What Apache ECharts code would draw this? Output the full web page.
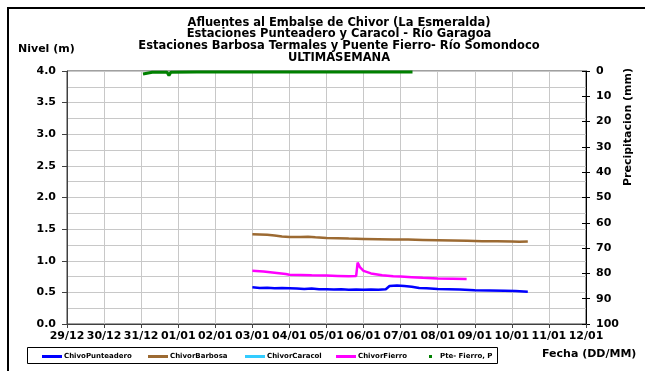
<!DOCTYPE html>
<html><head><meta charset="utf-8">
<script src="https://cdn.jsdelivr.net/npm/echarts@6/dist/echarts.min.js"></script>
<style>html,body{margin:0;padding:0;background:#fff}#c{width:645px;height:371px}</style>
</head><body><div id="c"></div>
<script>
var tickLabels = ['29/12','30/12','31/12','01/01','02/01','03/01','04/01','05/01','06/01','07/01','08/01','09/01','10/01','11/01','12/01'];
var leftTicks = [0,0.5,1,1.5,2,2.5,3,3.5,4];
var rightTicks = [0,10,20,30,40,50,60,70,80,90,100];
var seriesNames = ['ChivoPunteadero','ChivorBarbosa','ChivorCaracol','ChivorFierro','Pte- Fierro, P'];
// x = days since 29/12
var punteadero = [[5.0,0.58],[5.2,0.57],[5.4,0.575],[5.6,0.565],[5.8,0.57],[6.0,0.565],[6.2,0.56],[6.4,0.555],[6.6,0.56],[6.8,0.55],[7.0,0.55],[7.2,0.545],[7.4,0.55],[7.6,0.54],[7.8,0.545],[8.0,0.54],[8.2,0.545],[8.4,0.54],[8.6,0.55],[8.7,0.6],[8.9,0.61],[9.1,0.6],[9.3,0.59],[9.5,0.57],[9.7,0.565],[10.0,0.555],[10.3,0.55],[10.6,0.545],[11.0,0.535],[11.4,0.53],[11.8,0.525],[12.1,0.52],[12.43,0.51]];
var barbosa = [[5.0,1.42],[5.2,1.415],[5.4,1.41],[5.6,1.40],[5.8,1.385],[6.0,1.375],[6.3,1.375],[6.5,1.38],[6.7,1.37],[7.0,1.36],[7.3,1.355],[7.6,1.35],[8.0,1.345],[8.4,1.34],[8.8,1.335],[9.2,1.335],[9.6,1.33],[10.0,1.325],[10.4,1.32],[10.8,1.315],[11.2,1.31],[11.6,1.31],[12.0,1.305],[12.2,1.30],[12.43,1.305]];
var caracol = [];
var fierro = [[5.0,0.84],[5.3,0.83],[5.6,0.81],[5.9,0.79],[6.0,0.78],[6.3,0.775],[6.6,0.77],[7.0,0.765],[7.3,0.76],[7.6,0.755],[7.8,0.76],[7.84,0.97],[7.9,0.9],[8.0,0.84],[8.2,0.8],[8.5,0.77],[8.8,0.755],[9.0,0.75],[9.3,0.74],[9.6,0.73],[10.0,0.72],[10.4,0.715],[10.78,0.71]];
var precip = [[2.05,1.2],[2.1,0.6],[2.3,0.5],[2.7,0.5],[2.75,1.8],[2.8,0.5],[3.5,0.4],[5.0,0.4],[7.0,0.4],[9.32,0.4]];

var chart = echarts.init(document.getElementById('c'));
var F = 'DejaVu Sans, Verdana, sans-serif';
var lbl = {fontFamily:F, fontWeight:'bold', fontSize:11, color:'#000'};
var legTxt = {fontFamily:F, fontWeight:'bold', fontSize:7, color:'#000', padding:[0,0,0,-3]};
var legendLefts = [42, 148, 245, 336];
var legends = seriesNames.slice(0,4).map(function(n,i){
  return {data:[n], left:legendLefts[i], top:353, padding:0, itemWidth:20, itemHeight:3, icon:'rect', textStyle:legTxt};
});
legends.push({data:[seriesNames[4]], left:429, top:353, padding:0, itemWidth:3, itemHeight:3, icon:'rect',
  textStyle:{fontFamily:F, fontWeight:'bold', fontSize:7, color:'#000', padding:[0,0,0,3]}});
chart.setOption({
  animation:false,
  title:[
    {text:'Afluentes al Embalse de Chivor (La Esmeralda)\nEstaciones Punteadero y Caracol - Río Garagoa\nEstaciones Barbosa Termales y Puente Fierro- Río Somondoco\nULTIMASEMANA',
     left:339, textAlign:'center', top:17, padding:0,
     textStyle:{fontFamily:F, fontWeight:'bold', fontSize:11.5, lineHeight:11.6, color:'#000'}},
    {text:'Nivel (m)', left:18, top:44, padding:0, textStyle:lbl},
    {text:'Fecha (DD/MM)', left:542, top:349, padding:0, textStyle:lbl}
  ],
  graphic:[
    {type:'rect', shape:{x:8,y:8,width:700,height:400}, style:{fill:'none', stroke:'#000', lineWidth:2}, silent:true},
    {type:'rect', shape:{x:27.5,y:347.5,width:470,height:16}, style:{fill:'none', stroke:'#000', lineWidth:1}, silent:true},
    {type:'text', x:628, y:127, rotation:Math.PI/2, silent:true,
     style:{text:'Precipitacion (mm)', fontFamily:F, fontWeight:'bold', fontSize:11, fill:'#000', align:'center', verticalAlign:'middle'}}
  ],
  legend:legends,
  grid:{left:67, right:59, top:71, bottom:47, show:true, borderColor:'#404040', borderWidth:1, backgroundColor:'transparent'},
  xAxis:{type:'value', min:0, max:14, interval:1,
    axisLine:{lineStyle:{color:'#404040'}},
    axisTick:{show:true, length:4, lineStyle:{color:'#404040'}},
    axisLabel:Object.assign({margin:7, formatter:function(v){return tickLabels[Math.round(v)];}}, lbl),
    splitLine:{show:true, lineStyle:{color:'#c8c8c8', width:1}}},
  yAxis:[
    {type:'value', min:0, max:4, interval:0.5, position:'left',
     axisLine:{show:true, lineStyle:{color:'#404040'}},
     axisTick:{show:true, length:5, lineStyle:{color:'#404040'}},
     axisLabel:Object.assign({margin:11, formatter:function(v){return v.toFixed(1);}}, lbl),
     splitLine:{show:true, lineStyle:{color:'#c8c8c8', width:1}},
     minorTick:{show:false, splitNumber:2},
     minorSplitLine:{show:true, lineStyle:{color:'#c8c8c8', width:1}}},
    {type:'value', min:0, max:100, interval:10, position:'right', inverse:true,
     axisLine:{show:true, lineStyle:{color:'#000'}},
     axisTick:{show:true, length:4, lineStyle:{color:'#000'}},
     axisLabel:Object.assign({margin:10}, lbl),
     splitLine:{show:false}},
    {type:'value', min:0, max:100, interval:10, position:'right', inverse:true,
     axisLine:{show:false}, axisTick:{show:true, inside:true, length:4, lineStyle:{color:'#000'}},
     axisLabel:{show:false}, splitLine:{show:false}}
  ],
  series:[
    {name:seriesNames[0], type:'line', yAxisIndex:0, data:punteadero, showSymbol:false, symbol:'none', lineStyle:{color:'#0000ff', width:2.5}, itemStyle:{color:'#0000ff'}},
    {name:seriesNames[1], type:'line', yAxisIndex:0, data:barbosa, showSymbol:false, symbol:'none', lineStyle:{color:'#9c6a32', width:2.5}, itemStyle:{color:'#9c6a32'}},
    {name:seriesNames[2], type:'line', yAxisIndex:0, data:caracol, showSymbol:false, symbol:'none', lineStyle:{color:'#33ccff', width:1.5}, itemStyle:{color:'#33ccff'}},
    {name:seriesNames[3], type:'line', yAxisIndex:0, data:fierro, showSymbol:false, symbol:'none', lineStyle:{color:'#ff00ff', width:2.5}, itemStyle:{color:'#ff00ff'}},
    {name:seriesNames[4], type:'line', yAxisIndex:1, data:precip, showSymbol:false, symbol:'none', lineStyle:{color:'#008000', width:3}, itemStyle:{color:'#008000'}}
  ]
});
</script></body></html>
